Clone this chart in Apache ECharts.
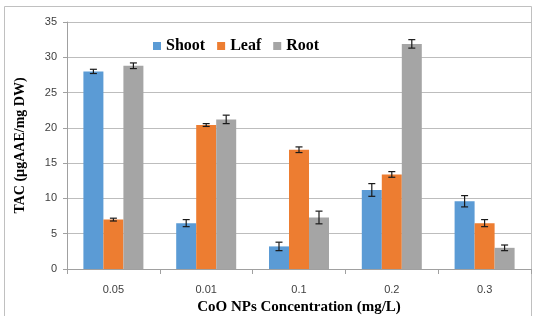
<!DOCTYPE html>
<html>
<head>
<meta charset="utf-8">
<script src="https://cdn.jsdelivr.net/npm/echarts@6/dist/echarts.min.js"></script>
<style>
html, body { margin: 0; padding: 0; background: #fff; }
#main { width: 536px; height: 316px; }
</style>
</head>
<body>
<div id="main"></div>
<script>
var categories = ['0.05', '0.01', '0.1', '0.2', '0.3']
var seriesNames = ['Shoot', 'Leaf', 'Root']
var shoot = [28.0, 6.5, 3.2, 11.2, 9.6]
var leaf = [7.0, 20.4, 16.9, 13.4, 6.5]
var root = [28.8, 21.2, 7.3, 31.9, 3.0]
var shootErr = [0.3, 0.5, 0.6, 0.9, 0.8]
var leafErr = [0.2, 0.2, 0.4, 0.4, 0.5]
var rootErr = [0.4, 0.6, 0.9, 0.6, 0.4]
var colors = ['#5b9bd5', '#ed7d31', '#a5a5a5']

var values = [shoot, leaf, root]
var errors = [shootErr, leafErr, rootErr]
var barW = 20

var myChart = echarts.init(document.getElementById('main'))

function errorSeries(k) {
    var data = []
    for (var i = 0; i < categories.length; i++) {
        data.push([i, values[k][i], errors[k][i]])
    }
    return {
        type: 'custom',
        name: seriesNames[k] + ' err',
        z: 10,
        silent: true,
        data: data,
        renderItem: function (params, api) {
            var idx = api.value(0)
            var v = api.value(1)
            var e = api.value(2)
            var off = (k - 1) * barW
            var hi = api.coord([idx, v + e])
            var lo = api.coord([idx, v - e])
            var x = hi[0] + off
            var cap = 3.5
            var style = { stroke: '#1a1a1a', lineWidth: 1.2 }
            return {
                type: 'group',
                children: [
                    { type: 'line', shape: { x1: x, y1: hi[1], x2: x, y2: lo[1] }, style: style },
                    { type: 'line', shape: { x1: x - cap, y1: hi[1], x2: x + cap, y2: hi[1] }, style: style },
                    { type: 'line', shape: { x1: x - cap, y1: lo[1], x2: x + cap, y2: lo[1] }, style: style }
                ]
            }
        }
    }
}

var series = []
for (var k = 0; k < 3; k++) {
    series.push({
        type: 'bar',
        name: seriesNames[k],
        data: values[k],
        barWidth: barW,
        barGap: '0%',
        itemStyle: { color: colors[k] }
    })
}
for (var k = 0; k < 3; k++) {
    series.push(errorSeries(k))
}

var option = {
    animation: false,
    backgroundColor: '#fff',
    graphic: [{
        type: 'rect',
        shape: { x: 4.5, y: 6.5, width: 527, height: 330 },
        style: { fill: 'none', stroke: '#c0c0c0', lineWidth: 1 },
        silent: true
    }],
    legend: {
        data: seriesNames,
        left: 148,
        top: 33,
        icon: 'rect',
        itemWidth: 8,
        itemHeight: 8,
        itemGap: 12,
        textStyle: {
            fontFamily: 'Liberation Serif',
            fontWeight: 'bold',
            fontSize: 16,
            color: '#000'
        }
    },
    grid: { left: 67, right: 5, top: 22, bottom: 47, containLabel: false, outerBoundsMode: 'none' },
    xAxis: {
        type: 'category',
        data: categories,
        name: 'CoO NPs Concentration (mg/L)',
        nameLocation: 'middle',
        nameGap: 31,
        nameTextStyle: {
            fontFamily: 'Liberation Serif',
            fontWeight: 'bold',
            fontSize: 15,
            color: '#000'
        },
        axisLine: { lineStyle: { color: '#a0a0a0' } },
        axisTick: { show: true, length: 5, lineStyle: { color: '#a0a0a0' } },
        axisLabel: { margin: 15, fontFamily: 'Liberation Sans', fontSize: 11, color: '#404040' }
    },
    yAxis: {
        type: 'value',
        min: 0,
        max: 35,
        interval: 5,
        name: 'TAC (µgAAE/mg DW)',
        nameLocation: 'middle',
        nameGap: 40,
        nameTextStyle: {
            fontFamily: 'Liberation Serif',
            fontWeight: 'bold',
            fontSize: 14,
            color: '#000'
        },
        axisLine: { show: true, lineStyle: { color: '#a0a0a0' } },
        axisTick: { show: true, length: 4, lineStyle: { color: '#a0a0a0' } },
        splitLine: { lineStyle: { color: '#bdbdbd' } },
        axisLabel: { margin: 10, fontFamily: 'Liberation Sans', fontSize: 11, color: '#404040' }
    },
    series: series
}
myChart.setOption(option)
</script>
</body>
</html>
